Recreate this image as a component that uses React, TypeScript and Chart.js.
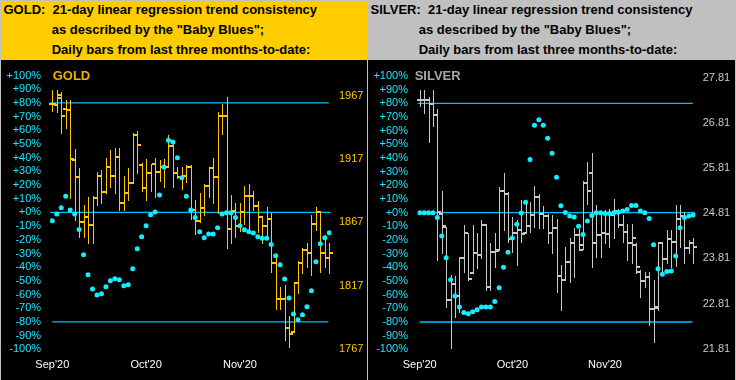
import React, { useEffect, useRef } from 'react';
import { Chart, registerables } from 'chart.js';

Chart.register(...registerables);
Chart.defaults.font.family = '"Liberation Sans", Arial, sans-serif';
Chart.defaults.font.size = 11;

// ---------- shared axis data ----------
const monthLabels = ["Sep'20", "Oct'20", "Nov'20"];
const monthIndex = [0, 21, 42];
const refLevels = [80, 0, -80];

// ---------- GOLD ----------
const goldPriceTicks = [1767, 1817, 1867, 1917, 1967];
const goldOpen = [1961, 1960, 1965, 1957, 1956, 1916, 1903, 1867, 1871, 1865, 1886, 1904, 1891, 1911, 1904, 1919, 1882, 1890, 1898, 1936, 1912, 1894, 1906, 1913, 1907, 1911, 1911, 1927, 1906, 1903, 1904, 1911, 1877, 1868, 1878, 1896, 1910, 1903, 1951, 1951, 1862, 1876, 1864, 1875, 1888, 1888, 1880, 1871, 1864, 1870, 1835, 1806, 1806, 1783, 1780, 1819, 1835, 1845, 1843, 1866, 1875, 1843, 1839];
const goldHigh = [1972, 1972, 1970, 1964, 1964, 1925, 1910, 1881, 1887, 1888, 1907, 1908, 1918, 1924, 1926, 1926, 1904, 1910, 1938, 1939, 1914, 1917, 1913, 1918, 1916, 1917, 1936, 1932, 1911, 1911, 1912, 1912, 1885, 1890, 1897, 1911, 1918, 1954, 1961, 1966, 1889, 1882, 1882, 1896, 1897, 1892, 1884, 1872, 1879, 1874, 1840, 1816, 1817, 1793, 1820, 1836, 1847, 1851, 1873, 1879, 1876, 1857, 1851];
const goldLow = [1955, 1954, 1938, 1942, 1886, 1869, 1855, 1855, 1851, 1851, 1881, 1882, 1890, 1895, 1890, 1877, 1877, 1885, 1898, 1906, 1892, 1885, 1892, 1887, 1900, 1895, 1911, 1895, 1902, 1893, 1899, 1870, 1858, 1867, 1873, 1887, 1882, 1874, 1937, 1847, 1851, 1855, 1860, 1866, 1860, 1877, 1859, 1851, 1855, 1828, 1798, 1798, 1774, 1768, 1780, 1811, 1827, 1832, 1825, 1861, 1828, 1832, 1827];
const goldClose = [1961, 1968, 1951, 1956, 1917, 1903, 1867, 1871, 1865, 1886, 1904, 1891, 1911, 1904, 1919, 1882, 1890, 1898, 1936, 1928, 1894, 1906, 1913, 1907, 1911, 1911, 1927, 1906, 1903, 1904, 1911, 1877, 1868, 1878, 1896, 1910, 1903, 1951, 1951, 1862, 1876, 1864, 1875, 1888, 1888, 1880, 1871, 1864, 1870, 1835, 1806, 1806, 1783, 1779, 1819, 1835, 1845, 1843, 1866, 1875, 1843, 1839, 1843];
const goldTrend = [-6.1, -1.2, 3.4, 11.9, 1.7, -1.2, -12.4, -31, -45.5, -56, -60.4, -59.4, -54.3, -49.9, -48.4, -49.2, -53.6, -52.8, -41.2, -26.5, -17.8, -9.8, -1.7, 0.4, 12.8, 33.3, 52.8, 51.5, 39.9, 25.3, 11.9, 1.7, -3.6, -14.1, -18.5, -15.8, -15.8, -11.2, -1.2, -0.3, -0.3, -3.6, -9.8, -12.7, -14.1, -15.1, -17.8, -18.8, -18.8, -23.4, -31.7, -38.2, -48.7, -62.6, -74.2, -78.4, -74.7, -68.9, -57.2, -36.0, -22.9, -18.5, -14.9];

// ---------- SILVER ----------
const silverPriceTicks = [21.81, 22.81, 23.81, 24.81, 25.81, 26.81, 27.81];
const silverOpen = [27.32, 27.32, 27.32, 27.23, 26.97, 24.80, 24.51, 22.88, 23.24, 22.97, 23.81, 24.36, 23.48, 23.92, 23.88, 24.54, 23.17, 23.94, 23.99, 25.29, 25.24, 24.23, 24.36, 24.43, 24.36, 24.52, 24.76, 25.16, 24.80, 24.74, 24.36, 24.47, 23.41, 23.33, 23.72, 24.14, 24.32, 24.10, 25.47, 25.69, 24.14, 24.32, 24.36, 24.34, 24.76, 24.85, 24.54, 24.39, 24.14, 24.10, 23.50, 23.30, 23.39, 22.69, 22.73, 24.14, 23.79, 24.23, 24.16, 24.67, 24.74, 24.03, 24.14];
const silverHigh = [27.54, 27.54, 27.38, 27.54, 27.12, 25.29, 24.51, 23.44, 23.41, 23.83, 24.54, 24.36, 24.54, 24.36, 24.65, 24.58, 24.14, 24.36, 25.38, 25.69, 25.27, 24.72, 24.65, 25.09, 25.09, 25.05, 25.42, 25.24, 24.96, 24.80, 24.76, 24.69, 23.66, 24.05, 24.27, 24.47, 24.45, 25.53, 25.95, 26.13, 24.98, 24.80, 24.87, 24.89, 25.13, 24.89, 24.76, 24.58, 24.58, 24.14, 23.55, 23.50, 23.50, 23.33, 24.16, 24.16, 24.43, 24.43, 24.98, 25.00, 24.83, 24.21, 24.25];
const silverLow = [27.19, 27.03, 26.39, 26.74, 23.77, 23.92, 22.73, 21.83, 22.51, 22.62, 23.50, 23.33, 23.48, 23.59, 23.81, 23.10, 23.10, 23.61, 23.99, 24.43, 24.16, 23.94, 23.66, 24.16, 24.36, 24.39, 24.51, 24.47, 24.47, 24.14, 23.92, 23.06, 22.66, 23.33, 23.28, 23.39, 23.99, 24.01, 25.02, 23.61, 23.83, 23.83, 24.14, 24.05, 24.27, 24.51, 24.16, 23.77, 23.70, 23.48, 22.95, 23.17, 22.33, 21.96, 22.66, 23.48, 23.70, 23.61, 23.63, 24.05, 23.70, 23.92, 23.70];
const silverClose = [27.32, 27.32, 27.23, 26.97, 24.83, 24.52, 22.88, 23.24, 22.97, 23.81, 24.36, 23.35, 23.92, 23.88, 24.54, 23.17, 23.94, 23.97, 25.29, 25.24, 24.23, 24.36, 24.43, 24.34, 24.52, 24.76, 25.16, 24.80, 24.74, 24.36, 24.47, 23.41, 23.33, 23.72, 24.14, 24.32, 23.99, 25.47, 25.31, 24.14, 24.32, 24.36, 24.34, 24.76, 24.85, 24.54, 24.39, 24.14, 24.25, 23.61, 23.30, 23.39, 22.69, 22.71, 24.14, 23.79, 24.23, 24.16, 24.67, 24.74, 24.03, 24.14, 24.05];
const silverTrend = [0, 0, 0, 0, -3.6, -17, -33, -49, -61, -69, -73, -74, -72.5, -71, -69, -69, -69, -65, -55, -40, -29, -18.5, -8.5, -0.3, 7.7, 39, 64, 68, 64, 54.5, 43.5, 26, 5, 0.2, -2.5, -3.2, -10, -16, -6, -2, 0, 0, -0.5, -0.5, 0, 0.3, 1.2, 2.4, 5.3, 5.3, 1.2, 0, -4.2, -23.4, -41, -45, -43, -42.6, -31.7, -11, -3.6, -2.5, -1.7];

const DOT = '#10EEFF';
const LINE = '#00BFFF';
const PCT = '#1EE6FF';

type PanelProps = {
  name: string;
  width: number;
  open: number[];
  high: number[];
  low: number[];
  close: number[];
  trend: number[];
  priceTicks: number[];
  priceMin: number;
  priceMax: number;
  priceFmt: (v: number) => string;
  barColor: string;
  priceColor: string;
  leftW: number;
  rightW: number;
  leftPad: number;
  rightPad: number;
};

function Panel(p: PanelProps) {
  const ref = useRef<HTMLCanvasElement>(null);
  useEffect(() => {
    const n = p.close.length;
    const ohlcPlugin = {
      id: 'ohlc_' + p.name,
      afterDatasetDraw(chart: any, args: any) {
        if (args.index !== 1) return;
        const ctx = chart.ctx;
        const xs = chart.scales.x;
        const ys = chart.scales.price;
        ctx.save();
        ctx.fillStyle = p.barColor;
        for (let i = 0; i < n; i++) {
          const x = Math.round(xs.getPixelForValue(i));
          const yH = Math.round(ys.getPixelForValue(p.high[i]));
          const yL = Math.round(ys.getPixelForValue(p.low[i]));
          const yO = Math.round(ys.getPixelForValue(p.open[i]));
          const yC = Math.round(ys.getPixelForValue(p.close[i]));
          ctx.fillRect(x, yH, 1, Math.max(1, yL - yH + 1));
          ctx.fillRect(x - 3, yO - 1, 3, 2);
          ctx.fillRect(x + 1, yC - 1, 3, 2);
        }
        ctx.restore();
      },
    };
    const lineEnds: [number, number][] = [[-0.5, 61.9], [-0.5, 62.3], [0, 61.8]];
    const lineSets = refLevels.map((lvl, k) => ({
      data: [{ x: lineEnds[k][0], y: lvl }, { x: lineEnds[k][1], y: lvl }],
      yAxisID: 'pct',
      showLine: true,
      borderColor: LINE,
      borderWidth: 1.3,
      pointRadius: 0,
    }));
    const chart = new Chart(ref.current as HTMLCanvasElement, {
      type: 'scatter',
      data: {
        datasets: [
          {
            data: p.trend.map((v, i) => ({ x: i, y: v })),
            yAxisID: 'pct',
            showLine: false,
            pointRadius: 2.5,
            pointHoverRadius: 2.5,
            pointBackgroundColor: DOT,
            pointBorderWidth: 0,
          } as any,
          ...lineSets,
        ],
      },
      options: {
        responsive: false,
        animation: false,
        events: [],
        layout: { padding: { top: 15.3, left: 0, right: 0, bottom: 0 } },
        plugins: { legend: { display: false }, tooltip: { enabled: false } },
        scales: {
          x: {
            type: 'linear',
            min: -0.5,
            max: n - 0.5,
            grid: { display: false, drawTicks: false },
            border: { display: false },
            afterBuildTicks: (s: any) => {
              s.ticks = monthIndex.map((v) => ({ value: v }));
            },
            afterFit: (s: any) => {
              s.height = 30.7;
            },
            ticks: {
              color: '#FFFFFF',
              padding: 9,
              autoSkip: false,
              maxRotation: 0,
              callback: (v: any) => {
                const k = monthIndex.indexOf(Number(v));
                return k >= 0 ? monthLabels[k] : '';
              },
            },
          },
          pct: {
            type: 'linear',
            position: 'left',
            min: -100,
            max: 100,
            grid: { display: false, drawTicks: false },
            border: { display: false },
            afterFit: (s: any) => {
              s.width = p.leftW;
            },
            ticks: {
              stepSize: 10,
              autoSkip: false,
              color: PCT,
              padding: p.leftPad,
              callback: (v: any) => (Number(v) >= 0 ? '+' : '') + v + '%',
            },
          },
          price: {
            type: 'linear',
            position: 'right',
            min: p.priceMin,
            max: p.priceMax,
            grid: { display: false, drawTicks: false },
            border: { display: false },
            afterBuildTicks: (s: any) => {
              s.ticks = p.priceTicks.map((v) => ({ value: v }));
            },
            afterFit: (s: any) => {
              s.width = p.rightW;
            },
            ticks: {
              autoSkip: false,
              color: p.priceColor,
              padding: p.rightPad,
              callback: (v: any) => p.priceFmt(Number(v)),
            },
          },
        },
      } as any,
      plugins: [ohlcPlugin],
    });
    return () => chart.destroy();
  }, []);
  return <canvas ref={ref} width={p.width} height={320} style={{ display: 'block' }} />;
}

const headFont = 'bold 13px "Liberation Sans", Arial, sans-serif';

function Header({ left, label }: { left: number; label: string }) {
  const base: React.CSSProperties = {
    position: 'absolute',
    font: headFont,
    lineHeight: '20px',
    whiteSpace: 'pre',
    color: '#000',
  };
  return (
    <>
      <div style={{ ...base, left: left + 2.5, top: 0 }}>{label + '  21-day linear regression trend consistency'}</div>
      <div style={{ ...base, left: left + 50.7, top: 20 }}>{'as described by the "Baby Blues";'}</div>
      <div style={{ ...base, left: left + 50.7, top: 40 }}>{'Daily bars from last three months-to-date:'}</div>
    </>
  );
}

export default function App() {
  return (
    <div style={{ position: 'relative', width: 736, height: 380, background: '#C0C0C0', overflow: 'hidden' }}>
      <style>{'body{margin:0}'}</style>
      <div style={{ position: 'absolute', left: 1, top: 1, width: 366, height: 59, background: '#FFCC00' }} />
      <div style={{ position: 'absolute', left: 368, top: 1, width: 367, height: 59, background: '#C0C0C0' }} />
      <Header left={1} label="GOLD:" />
      <Header left={368} label="SILVER:" />
      <div style={{ position: 'absolute', left: 1, top: 60, width: 366, height: 320, background: '#000' }}>
        <Panel
          name="gold"
          width={366}
          open={goldOpen}
          high={goldHigh}
          low={goldLow}
          close={goldClose}
          trend={goldTrend}
          priceTicks={goldPriceTicks}
          priceMin={1766.5}
          priceMax={1983.1}
          priceFmt={(v) => String(Math.round(v))}
          barColor="#FFC800"
          priceColor="#FFC800"
          leftW={49.07}
          rightW={35.5}
          leftPad={9}
          rightPad={7.5}
        />
      </div>
      <div style={{ position: 'absolute', left: 368, top: 60, width: 367, height: 320, background: '#000' }}>
        <Panel
          name="silver"
          width={367}
          open={silverOpen}
          high={silverHigh}
          low={silverLow}
          close={silverClose}
          trend={silverTrend}
          priceTicks={silverPriceTicks}
          priceMin={21.797}
          priceMax={27.841}
          priceFmt={(v) => v.toFixed(2)}
          barColor="#C8C8C8"
          priceColor="#C8C8C8"
          leftW={49.5}
          rightW={39.5}
          leftPad={9.5}
          rightPad={7.2}
        />
      </div>
      <div style={{ position: 'absolute', left: 52.7, top: 69.3, font: headFont, lineHeight: '13px', color: '#EBB400' }}>GOLD</div>
      <div style={{ position: 'absolute', left: 414.7, top: 69.3, font: headFont, lineHeight: '13px', color: '#A8A8A8' }}>SILVER</div>
    </div>
  );
}
